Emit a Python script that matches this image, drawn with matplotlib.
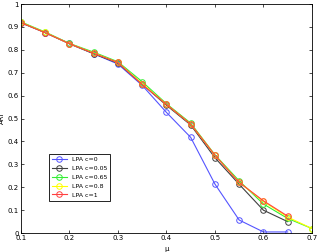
import numpy as np
import matplotlib
matplotlib.use("Agg")
import matplotlib.pyplot as plt

mu = [0.1, 0.15, 0.2, 0.25, 0.3, 0.35, 0.4, 0.45, 0.5, 0.55, 0.6, 0.65, 0.7]
mu_short = mu[:-1]

ari_c0 = [0.92, 0.875, 0.828, 0.783, 0.738, 0.645, 0.527, 0.418, 0.214, 0.057, 0.005, 0.005]
ari_c005 = [0.918, 0.875, 0.826, 0.783, 0.742, 0.65, 0.558, 0.472, 0.329, 0.213, 0.1, 0.05]
ari_c065 = [0.922, 0.878, 0.828, 0.79, 0.748, 0.661, 0.565, 0.48, 0.342, 0.228, 0.127, 0.064, 0.02]
ari_c08 = [0.92, 0.876, 0.827, 0.786, 0.745, 0.652, 0.562, 0.476, 0.34, 0.222, 0.138, 0.07, 0.02]
ari_c1 = [0.919, 0.875, 0.827, 0.785, 0.745, 0.649, 0.562, 0.476, 0.34, 0.221, 0.141, 0.074]

labels = ["LPA c=0", "LPA c=0.05", "LPA c=0.65", "LPA c=0.8", "LPA c=1"]
colors = ["#5555ff", "#404040", "#33ee33", "#ffff00", "#ff4040"]

fig = plt.figure(figsize=(3.17, 2.52), dpi=100)
ax = fig.add_axes([0.066, 0.075, 0.918, 0.909])

series = [(mu_short, ari_c0), (mu_short, ari_c005), (mu, ari_c065), (mu, ari_c08), (mu_short, ari_c1)]
for (xs, ys), lab, col in zip(series, labels, colors):
    ax.plot(xs, ys, color=col, marker="o", markersize=4, markerfacecolor="none",
            markeredgewidth=0.7, linewidth=0.8, label=lab)

ax.set_xlim(0.1, 0.7)
ax.set_ylim(0, 1)
ax.set_xticks(np.arange(0.1, 0.71, 0.1))
ax.set_yticks(np.arange(0, 1.01, 0.1))
ax.set_xticklabels(["0.1", "0.2", "0.3", "0.4", "0.5", "0.6", "0.7"])
ax.set_yticklabels(["0", "0.1", "0.2", "0.3", "0.4", "0.5", "0.6", "0.7", "0.8", "0.9", "1"])
ax.tick_params(direction="in", top=True, right=True, labelsize=5, length=2.5, width=0.5, pad=1.5)
for s in ax.spines.values():
    s.set_linewidth(0.6)
ax.set_xlabel("\u03bc", fontsize=5)
ax.xaxis.set_label_coords(0.5, -0.055)
ax.set_ylabel("ARI", fontsize=5, labelpad=2)

leg = ax.legend(loc="lower left", bbox_to_anchor=(0.096, 0.14), borderaxespad=0,
                fontsize=4.5, frameon=True, numpoints=1,
                fancybox=False, edgecolor="black", framealpha=1, handlelength=2.3,
                borderpad=0.55, labelspacing=0.55, handletextpad=0.8)
leg.get_frame().set_linewidth(0.6)

fig.savefig("out.png", dpi=100)
